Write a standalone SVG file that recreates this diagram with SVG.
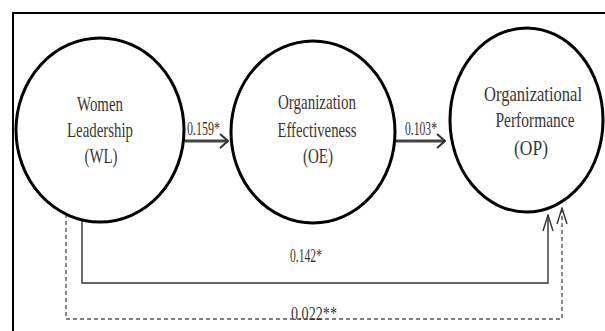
<svg xmlns="http://www.w3.org/2000/svg" width="605" height="331" viewBox="0 0 605 331">
<style>
.node{fill:#fff;stroke:#000;stroke-width:3}
.t{font-family:"Liberation Serif","Times New Roman",serif;font-size:21px;fill:#3a3632;text-anchor:middle}
.lbl{font-family:"Liberation Serif","Times New Roman",serif;font-size:18.5px;fill:#3a3632}
.bold{fill:none;stroke:#444;stroke-width:3}
.thin{fill:none;stroke:#333;stroke-width:1.4}
.dash{fill:none;stroke:#555;stroke-width:1.4;stroke-dasharray:4 3}
</style>
<defs>
<marker id="ah" markerUnits="userSpaceOnUse" viewBox="0 0 10 16" refX="9" refY="8" markerWidth="10" markerHeight="16" orient="auto">
<path d="M1,1 L9,8 L1,15" fill="none" stroke="#333" stroke-width="2"/>
</marker>
<marker id="av" markerUnits="userSpaceOnUse" viewBox="0 0 18 12" refX="17" refY="6" markerWidth="18" markerHeight="12" orient="auto">
<path d="M1,1 L17,6 L1,11" fill="none" stroke="#333" stroke-width="1.4"/>
</marker>
</defs>
<rect width="605" height="331" fill="#fff"/>
<g id="frame" fill="none" stroke="#000" stroke-width="2">
<path d="M13,331 L13,13 L605,13"/>
</g>
<g id="connectors">
<line class="bold" x1="185" y1="141" x2="228" y2="141" marker-end="url(#ah)"/>
<line class="bold" x1="395" y1="141" x2="445" y2="141" marker-end="url(#ah)"/>
<path class="thin" d="M82,220 L82,283 L548,283 L548,215" marker-end="url(#av)"/>
<path class="dash" d="M66,214 L66,319 L562,319 L562,208" marker-end="url(#av)"/>
<text class="lbl" x="187" y="135" textLength="33" lengthAdjust="spacingAndGlyphs">0.159*</text>
<text class="lbl" x="405" y="135" textLength="32" lengthAdjust="spacingAndGlyphs">0.103*</text>
<text class="lbl" x="290" y="262" textLength="32" lengthAdjust="spacingAndGlyphs">0.142*</text>
<text class="lbl" x="291" y="320" textLength="46" lengthAdjust="spacingAndGlyphs">0.022**</text>
</g>
<g id="WL">
<ellipse class="node" cx="100" cy="130" rx="84" ry="92"/>
<text class="t" x="100" y="111" textLength="46" lengthAdjust="spacingAndGlyphs">Women</text>
<text class="t" x="100" y="137" textLength="66" lengthAdjust="spacingAndGlyphs">Leadership</text>
<text class="t" x="101" y="163" textLength="33" lengthAdjust="spacingAndGlyphs">(WL)</text>
</g>
<g id="OE">
<ellipse class="node" cx="313" cy="132" rx="82" ry="91"/>
<text class="t" x="317" y="109" textLength="78" lengthAdjust="spacingAndGlyphs">Organization</text>
<text class="t" x="317" y="137" textLength="79" lengthAdjust="spacingAndGlyphs">Effectiveness</text>
<text class="t" x="318" y="163" textLength="30" lengthAdjust="spacingAndGlyphs">(OE)</text>
</g>
<g id="OP">
<ellipse class="node" cx="526.5" cy="120" rx="76.5" ry="92"/>
<text class="t" x="533" y="101" textLength="98" lengthAdjust="spacingAndGlyphs">Organizational</text>
<text class="t" x="535" y="127" textLength="79" lengthAdjust="spacingAndGlyphs">Performance</text>
<text class="t" x="531" y="155" textLength="34" lengthAdjust="spacingAndGlyphs">(OP)</text>
</g>
</svg>
